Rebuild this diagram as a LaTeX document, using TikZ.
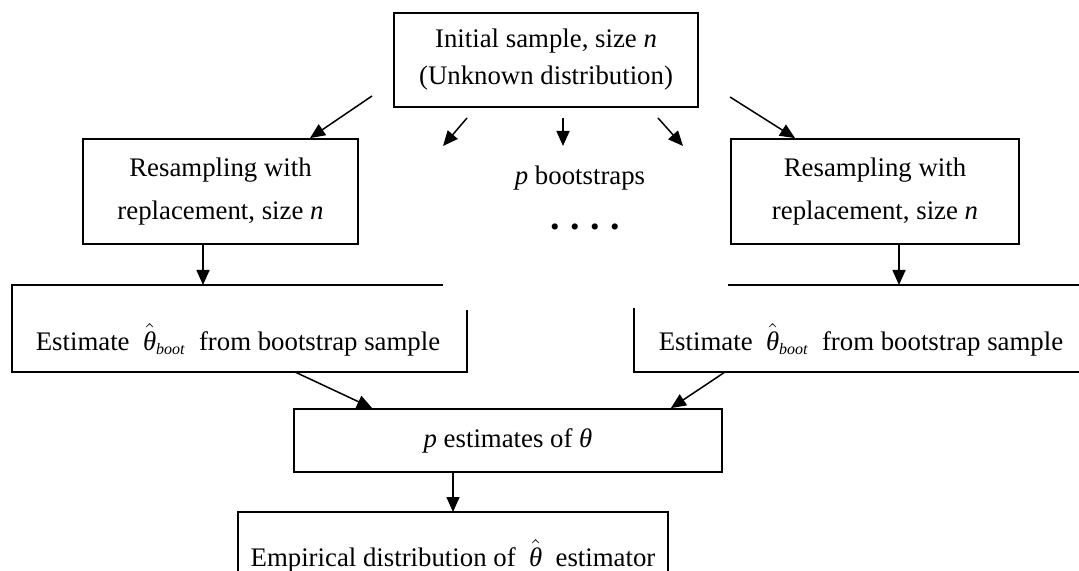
\documentclass[tikz,border=0pt]{standalone}
\usepackage{fontspec}
\setmainfont{Liberation Serif}
\usetikzlibrary{arrows.meta,calc}

% theta-hat set in the italic text face, with the math hat on top
\newcommand{\thhat}{\ensuremath{\hat{\mbox{\itshape θ}}}}
\newcommand{\thboot}{\ensuremath{\hat{\mbox{\itshape θ}}_{\mbox{\fontsize{8}{8}\selectfont\itshape boot}}}}

\begin{document}
\begin{tikzpicture}[x=0.5pt,y=-0.5pt,
  every node/.style={font=\fontsize{13.4}{18.5}\selectfont, inner sep=0pt},
  box/.style={draw, line width=0.9pt, align=center},
  border/.style={line width=0.9pt},
  arr/.style={line width=0.75pt, -{Triangle[length=7.5pt,width=6.5pt]}}]

\useasboundingbox (0,0) rectangle (1079,571);

% top sample
\node[box, minimum width=152pt, minimum height=47pt] (init) at (546,60)
  {Initial sample, size \textit{n}\\(Unknown distribution)};

% resampling boxes
\node[box, minimum width=137.5pt, minimum height=52.5pt,
      font=\fontsize{13.4}{21.5}\selectfont] (resL) at (220.5,191.5)
  {Resampling with\\replacement, size \textit{n}};
\node[box, minimum width=144pt, minimum height=52.5pt,
      font=\fontsize{13.4}{21.5}\selectfont] (resR) at (875,191.5)
  {Resampling with\\replacement, size \textit{n}};

% middle labels
\node (boot) at (580,178) {\textit{p} bootstraps};
\node[font=\fontsize{19}{19}\selectfont\bfseries] (dots) at (585,227)
  {.\hspace{5.2pt}.\hspace{5.2pt}.\hspace{5.2pt}.};

% estimate texts and the corners of their frames
\node (estL) at (238,340) {Estimate \ \thboot\ \ from bootstrap sample};
\coordinate (eLnw) at ($(estL)+(-226,-55)$);
\coordinate (eLse) at ($(estL)+(229,32)$);
\node (estR) at (861,340) {Estimate \ \thboot\ \ from bootstrap sample};
\coordinate (eRnw) at ($(estR)+(-227,-55)$);
\coordinate (eRse) at ($(estR)+(218,32)$);

% p estimates
\node[box, minimum width=214pt, minimum height=31.5pt] (pest) at (508,440.5)
  {\textit{p} estimates of \textit{θ}};

% empirical distribution text and its frame corners
\node (emp) at (453,556) {Empirical distribution of \ \thhat\ \ estimator};
\coordinate (eMnw) at ($(emp)+(-215,-44)$);
\coordinate (eMse) at ($(emp)+(215,15)$);
\coordinate (eMtop) at ($(emp)+(0,-44)$);

% partial frames
\draw[border] ($(eLnw)+(431,0)$) -- (eLnw) -- (eLnw |- eLse) -- (eLse) -- ($(eLse)+(0,-62)$);
\draw[border] ($(eRnw)+(94,0)$) -- (eRnw -| eRse);
\draw[border] ($(eRnw)+(0,23)$) -- (eRnw |- eRse) -- (eRse);
\draw[border] (eMnw |- eMse) -- (eMnw) -- (eMnw -| eMse) -- (eMse);

% arrows from the initial sample
\coordinate (aTL) at (372,96);
\coordinate (aTR) at (730,97);
\draw[arr] (aTL) -- ($(resL.north)+(89.5,0)$);
\draw[arr] (aTR) -- ($(resR.north)+(-80,0)$);
\coordinate (s1a) at (467,118); \coordinate (s1b) at (443,146);
\coordinate (s2a) at (563,118); \coordinate (s2b) at (563,146);
\coordinate (s3a) at (658,118); \coordinate (s3b) at (683,146);
\draw[arr] (s1a) -- (s1b);
\draw[arr] (s2a) -- (s2b);
\draw[arr] (s3a) -- (s3b);

% resampling to estimates
\coordinate (dL) at ($(resL.south)+(-17.5,0)$);
\coordinate (dR) at ($(resR.south)+(24,0)$);
\draw[arr] (dL) -- (dL |- eLnw);
\draw[arr] (dR) -- (dR |- eRnw);

% estimates to p estimates
\draw[arr] ($(eLnw |- eLse)+(283,0)$) -- ($(pest.north west)+(79,0)$);
\draw[arr] ($(eRnw |- eRse)+(91,0)$) -- ($(pest.north east)+(-52,0)$);

% p estimates to empirical distribution
\draw[arr] (eMtop |- pest.south) -- (eMtop);
\end{tikzpicture}
\end{document}
